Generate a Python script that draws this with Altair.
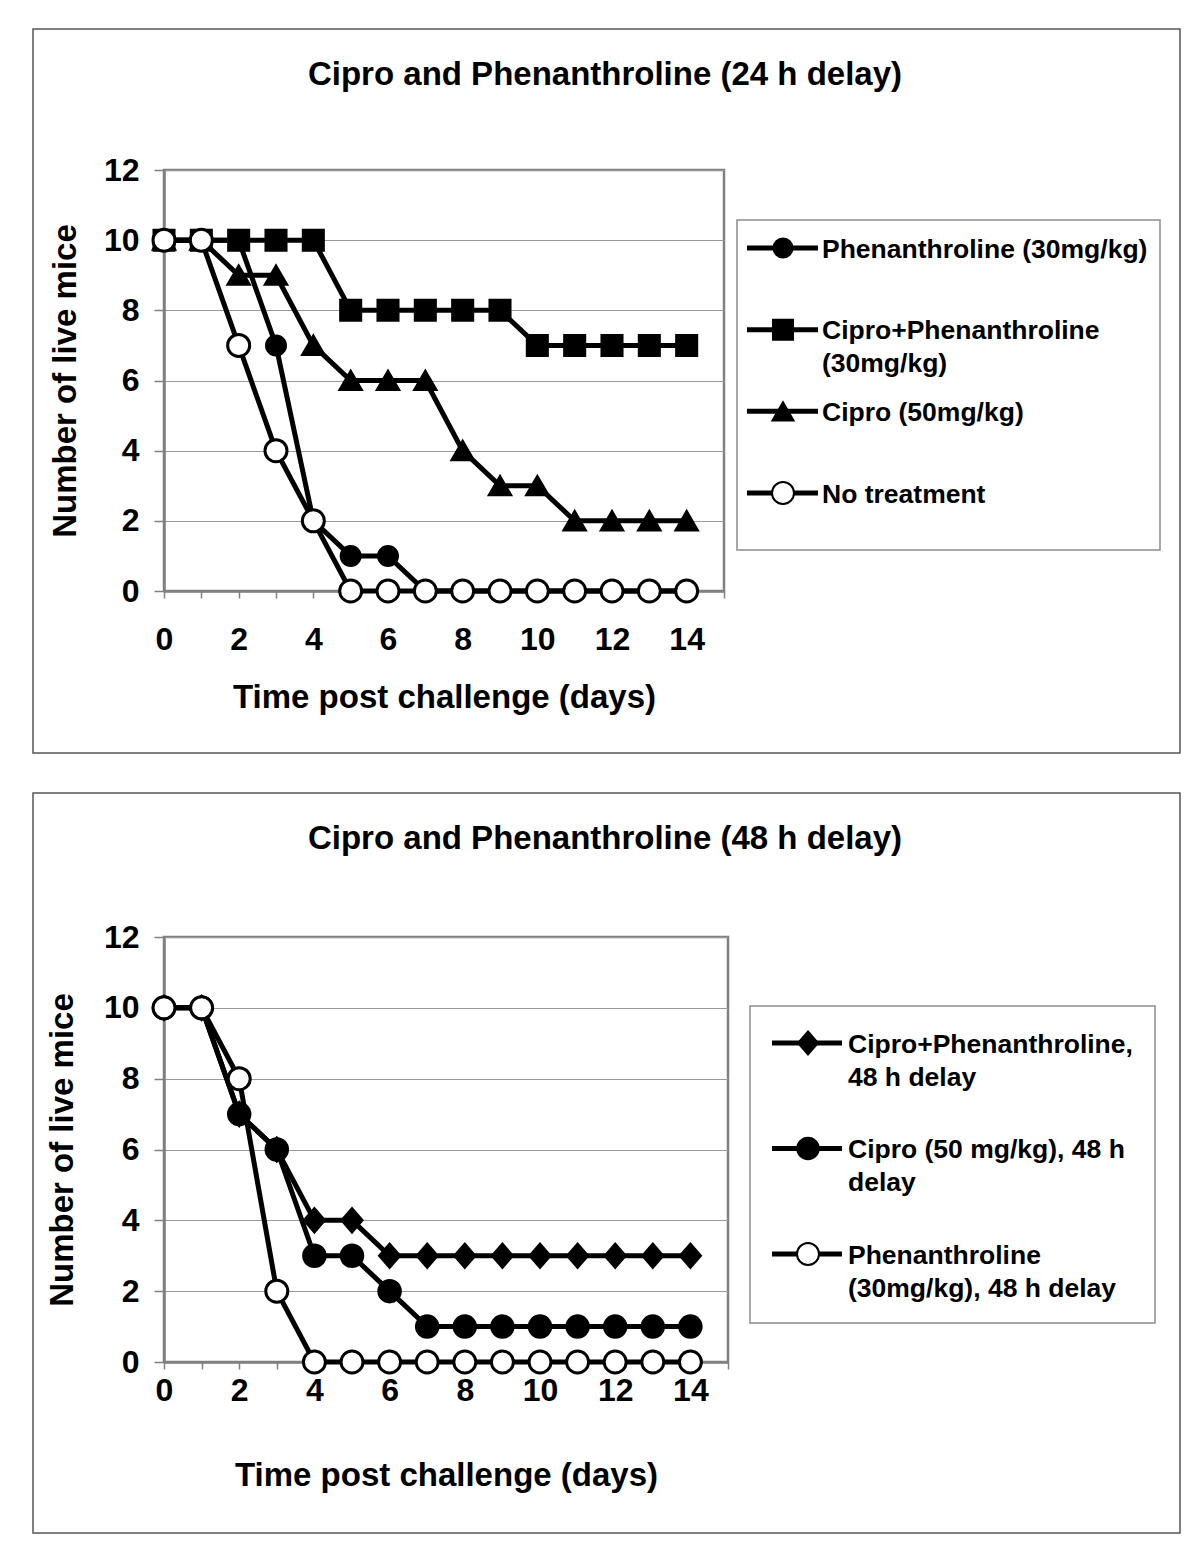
import altair as alt
import pandas as pd

# ---------------- data ----------------
DAYS = list(range(15))
X_TICKS = list(range(16))
Y_TICKS = [0, 2, 4, 6, 8, 10, 12]
X_TITLE = "Time post challenge (days)"
Y_TITLE = "Number of live mice"

TOP_TITLE = "Cipro and Phenanthroline (24 h delay)"
TOP_SERIES = ["Phenanthroline (30mg/kg)", "Cipro+Phenanthroline (30mg/kg)",
              "Cipro (50mg/kg)", "No treatment"]
TOP_LEGEND = ["Phenanthroline (30mg/kg)", "Cipro+Phenanthroline\n(30mg/kg)",
              "Cipro (50mg/kg)", "No treatment"]
TOP_PHEN = [10, 10, 10, 7, 2, 1, 1, 0, 0, 0, 0, 0, 0, 0, 0]
TOP_CIPRO_PHEN = [10, 10, 10, 10, 10, 8, 8, 8, 8, 8, 7, 7, 7, 7, 7]
TOP_CIPRO = [10, 10, 9, 9, 7, 6, 6, 6, 4, 3, 3, 2, 2, 2, 2]
TOP_NONE = [10, 10, 7, 4, 2, 0, 0, 0, 0, 0, 0, 0, 0, 0, 0]

BOT_TITLE = "Cipro and Phenanthroline (48 h delay)"
BOT_SERIES = ["Cipro+Phenanthroline, 48 h delay", "Cipro (50 mg/kg), 48 h delay",
              "Phenanthroline (30mg/kg), 48 h delay"]
BOT_LEGEND = ["Cipro+Phenanthroline,\n48 h delay", "Cipro (50 mg/kg), 48 h\ndelay",
              "Phenanthroline\n(30mg/kg), 48 h delay"]
BOT_CIPRO_PHEN = [10, 10, 7, 6, 4, 4, 3, 3, 3, 3, 3, 3, 3, 3, 3]
BOT_CIPRO = [10, 10, 7, 6, 3, 3, 2, 1, 1, 1, 1, 1, 1, 1, 1]
BOT_PHEN = [10, 10, 8, 2, 0, 0, 0, 0, 0, 0, 0, 0, 0, 0, 0]

# ---------------- style ----------------
FONT = "Liberation Sans"
DIAMOND = "M0,-1.1L0.95,0L0,1.1L-0.95,0Z"
GRAY = "#808080"


def panel(title, series, legend_labels, values, shapes, fills, sizes, leg_sizes, g):
    rows = []
    for s, vals in zip(series, values):
        for d, v in zip(DAYS, vals):
            rows.append({"series": s, "day": d, "alive": v})
    df = pd.DataFrame(rows)
    n = len(series)
    leg = pd.DataFrame({"series": series, "label": legend_labels, "idx": list(range(n))})
    one = pd.DataFrame({"t": [title]})

    x_axis = alt.Axis(values=X_TICKS,
                      labelExpr="datum.value % 2 == 0 && datum.value < 15 ? datum.label : ''",
                      title=X_TITLE, grid=False, tickSize=7, tickColor=GRAY, tickWidth=1.5,
                      domainColor=GRAY, domainWidth=2.5, labelFont=FONT, labelFontSize=32,
                      labelFontWeight="bold", labelColor="black", labelBaseline="middle",
                      labelPadding=g["xlabpad"], titleFont=FONT, titleFontSize=33,
                      titleFontWeight="bold", titleColor="black", titleBaseline="middle",
                      titleY=g["xtitley"], titleX=g["w"] / 2, labelFlush=False,
                      labelOverlap=False)
    y_axis = alt.Axis(values=Y_TICKS, title=Y_TITLE, grid=True, gridColor="#999999",
                      gridWidth=1.2, tickSize=10, tickColor=GRAY, tickWidth=1.5,
                      domainColor=GRAY, domainWidth=2.5, labelFont=FONT, labelFontSize=32,
                      labelFontWeight="bold", labelColor="black", labelPadding=15,
                      titleFont=FONT, titleFontSize=33, titleFontWeight="bold",
                      titleColor="black", titleBaseline="middle", titleX=g["ytitlex"],
                      titleY=g["h"] / 2, titleAngle=270, labelFlush=False)
    xs = alt.Scale(domain=[0, 15], nice=False, zero=False)
    ys = alt.Scale(domain=[0, 12], nice=False, zero=False)

    shape_enc = alt.Shape("series:N", scale=alt.Scale(domain=series, range=shapes), legend=None)
    fill_enc = alt.Fill("series:N", scale=alt.Scale(domain=series, range=fills), legend=None)
    size_enc = alt.Size("series:N", scale=alt.Scale(domain=series, range=sizes), legend=None)

    box = alt.Chart(one).mark_rect(fill="transparent", stroke="#555555", strokeWidth=1.5).encode(
        x=alt.value(g["box"][0]), x2=alt.value(g["box"][1]),
        y=alt.value(g["box"][2]), y2=alt.value(g["box"][3]))
    title_mark = alt.Chart(one).mark_text(font=FONT, fontSize=33, fontWeight="bold",
                                          color="black", align="center",
                                          baseline="middle").encode(
        x=alt.value(g["title"][0]), y=alt.value(g["title"][1]), text="t:N")

    lines = alt.Chart(df).mark_line(color="black", strokeWidth=5).encode(
        x=alt.X("day:Q", scale=xs, axis=x_axis),
        y=alt.Y("alive:Q", scale=ys, axis=y_axis),
        detail="series:N")
    points = alt.Chart(df).mark_point(filled=True, opacity=1, stroke="black",
                                      strokeWidth=3).encode(
        x=alt.X("day:Q", scale=xs, axis=x_axis),
        y=alt.Y("alive:Q", scale=ys, axis=None),
        shape=shape_enc, fill=fill_enc, size=size_enc)

    lb = g["legbox"]
    legbox = alt.Chart(one).mark_rect(fill="white", stroke="#8c8c8c", strokeWidth=1.5).encode(
        x=alt.value(lb[0]), x2=alt.value(lb[1]), y=alt.value(lb[2]), y2=alt.value(lb[3]))
    ly = alt.Y("idx:Q", scale=alt.Scale(domain=[0, n - 1], range=g["legy"], nice=False,
                                        zero=False), axis=None)
    leg_lines = alt.Chart(leg).mark_rule(color="black", strokeWidth=5).encode(
        x=alt.value(g["legline"][0]), x2=alt.value(g["legline"][1]), y=ly)
    leg_points = alt.Chart(leg).mark_point(filled=True, opacity=1, stroke="black",
                                           strokeWidth=2).encode(
        x=alt.value(g["legmark"]), y=ly, shape=shape_enc, fill=fill_enc,
        size=alt.Size("series:N", scale=alt.Scale(domain=series, range=leg_sizes),
                      legend=None))
    leg_text = alt.Chart(leg).mark_text(font=FONT, fontSize=26.5, fontWeight="bold",
                                        color="black", align="left", baseline="alphabetic",
                                        dy=9.5, lineBreak="\n", lineHeight=33).encode(
        x=alt.value(g["legtext"]), y=ly, text="label:N")

    return alt.layer(box, title_mark, lines, points, legbox, leg_lines, leg_points,
                     leg_text).resolve_scale(y="independent").properties(
        width=g["w"], height=g["h"])


top_geo = dict(w=560, h=421, box=(-131, 1016, -141, 583), title=(441, -95),
               xlabpad=41, xtitley=106, ytitlex=-99,
               legbox=(573, 996, 50, 380), legline=(583, 654), legmark=619, legtext=658,
               legy=[78, 323])
bot_geo = dict(w=564, h=425, box=(-131, 1016, -144, 596), title=(441, -98),
               xlabpad=21, xtitley=113, ytitlex=-102,
               legbox=(586, 991, 69, 386), legline=(608, 678), legmark=644, legtext=684,
               legy=[106, 317])

top = panel(TOP_TITLE, TOP_SERIES, TOP_LEGEND,
            [TOP_PHEN, TOP_CIPRO_PHEN, TOP_CIPRO, TOP_NONE],
            ["circle", "square", "triangle-up", "circle"],
            ["black", "black", "black", "white"],
            [361, 484, 576, 361], [196, 256, 289, 196], top_geo)
bot = panel(BOT_TITLE, BOT_SERIES, BOT_LEGEND,
            [BOT_CIPRO_PHEN, BOT_CIPRO, BOT_PHEN],
            [DIAMOND, "circle", "circle"],
            ["black", "black", "white"],
            [441, 484, 361], [196, 225, 196], bot_geo)

chart = alt.vconcat(top, bot, spacing=36).resolve_scale(
    shape="independent", fill="independent", size="independent"
).properties(
    padding={"left": 23, "top": 19, "right": 5, "bottom": 5}
).configure_view(stroke=GRAY, strokeWidth=2.5)

chart.save("out.html", embed_options={"renderer": "svg", "actions": False})
